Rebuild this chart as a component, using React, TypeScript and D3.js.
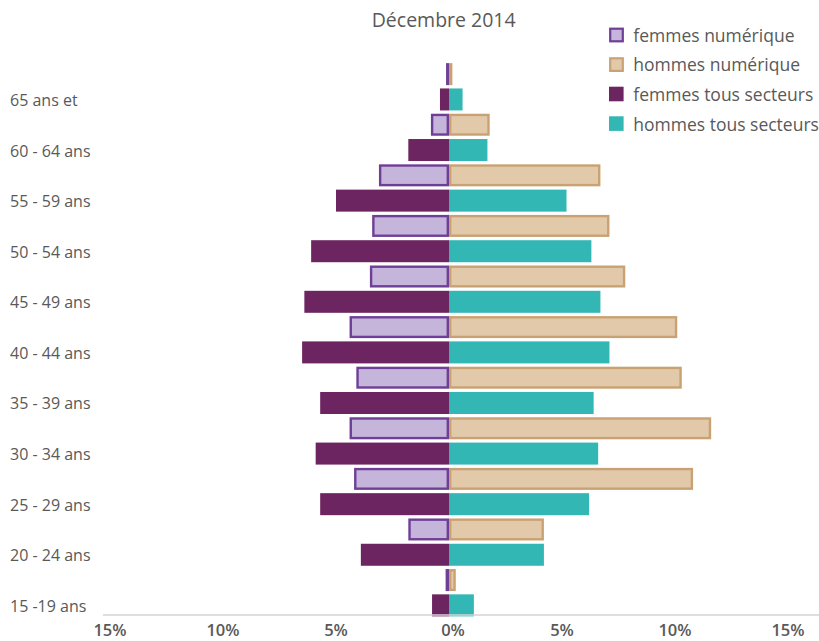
import * as d3 from 'd3'

const ageGroups = ['65 ans et', '60 - 64 ans', '55 - 59 ans', '50 - 54 ans', '45 - 49 ans', '40 - 44 ans', '35 - 39 ans', '30 - 34 ans', '25 - 29 ans', '20 - 24 ans', '15 -19 ans']
const femmesNumerique = [0.13, 0.8, 3.1, 3.4, 3.5, 4.4, 4.1, 4.4, 4.2, 1.8, 0.15]
const hommesNumerique = [0.15, 1.8, 6.7, 7.1, 7.8, 10.1, 10.3, 11.6, 10.8, 4.2, 0.3]
const femmesTous = [0.4, 1.8, 5.0, 6.1, 6.4, 6.5, 5.7, 5.9, 5.7, 3.9, 0.75]
const hommesTous = [0.6, 1.7, 5.2, 6.3, 6.7, 7.1, 6.4, 6.6, 6.2, 4.2, 1.1]
const tickValues = [-15, -10, -5, 0, 5, 10, 15]

const W = 819
const H = 641
const FONT = '"Open Sans", sans-serif'
const TEXT = '#595959'

const colors = {
  femNumFill: '#c6b5da',
  femNumStroke: '#6f3e96',
  homNumFill: '#e1c9aa',
  homNumStroke: '#c9a273',
  femTous: '#6d2561',
  homTous: '#33b7b5',
}

const legend = [
  { label: 'femmes numérique', fill: colors.femNumFill, stroke: colors.femNumStroke },
  { label: 'hommes numérique', fill: colors.homNumFill, stroke: colors.homNumStroke },
  { label: 'femmes tous secteurs', fill: colors.femTous, stroke: null },
  { label: 'hommes tous secteurs', fill: colors.homTous, stroke: null },
]

export default function App() {
  const x = d3.scaleLinear().domain([-15, 15]).range([110, 788])
  const rowKeys = ageGroups.flatMap(g => [`${g}|num`, `${g}|tous`])
  const y = d3.scaleBand<string>().domain(rowKeys).range([61.5, 618]).paddingInner(0.13).paddingOuter(0.065)
  const bh = y.bandwidth()
  const sw = 2.4

  // outlined bar, stroke kept inside the bar extent
  const outlined = (x0: number, x1: number, yTop: number, fill: string, stroke: string, key: string) => {
    const w = x1 - x0
    const inset = Math.min(sw / 2, w / 2)
    return (
      <rect key={key} x={x0 + inset} y={yTop + sw / 2} width={Math.max(w - 2 * inset, 0.01)} height={bh - sw}
        fill={fill} stroke={stroke} strokeWidth={Math.min(sw, w)} />
    )
  }

  return (
    <svg width={W} height={H} style={{ position: 'absolute', left: 0, top: 0, background: '#fff' }} fontFamily={FONT}>
      <text x={443.7} y={27.3} textAnchor="middle" fontSize={19.5} fill={TEXT}>Décembre 2014</text>

      {ageGroups.map((g, i) => {
        const yNum = y(`${g}|num`) ?? 0
        const yTous = y(`${g}|tous`) ?? 0
        return (
          <g key={g}>
            {outlined(x(-femmesNumerique[i]), x(0), yNum, colors.femNumFill, colors.femNumStroke, 'fn')}
            {outlined(x(0), x(hommesNumerique[i]), yNum, colors.homNumFill, colors.homNumStroke, 'hn')}
            <rect x={x(-femmesTous[i])} y={yTous} width={x(0) - x(-femmesTous[i])} height={bh} fill={colors.femTous} />
            <rect x={x(0)} y={yTous} width={x(hommesTous[i]) - x(0)} height={bh} fill={colors.homTous} />
            <text x={10} y={yTous + bh / 2 + 0.5} dominantBaseline="central" fontSize={16} fill={TEXT}>{g}</text>
          </g>
        )
      })}

      <line x1={103} x2={W} y1={615} y2={615} stroke="#d4d4d4" strokeWidth={1.6} />
      {tickValues.map(t => (
        <text key={t} x={x(t) + (t === 0 ? 4 : 0)} y={636} textAnchor="middle" fontSize={16.5} fontWeight={600} fill={TEXT}>
          {`${Math.abs(t)}%`}
        </text>
      ))}

      {legend.map((d, i) => {
        const cy = 34.7 + i * 29.6
        return (
          <g key={d.label}>
            {d.stroke
              ? <rect x={610.2} y={cy - 6} width={12.6} height={12.6} fill={d.fill} stroke={d.stroke} strokeWidth={2.2} />
              : <rect x={609} y={cy - 7.2} width={14.6} height={14.6} fill={d.fill} />}
            <text x={633.3} y={cy} dominantBaseline="central" fontSize={17.5} fill={TEXT}>{d.label}</text>
          </g>
        )
      })}
    </svg>
  )
}
